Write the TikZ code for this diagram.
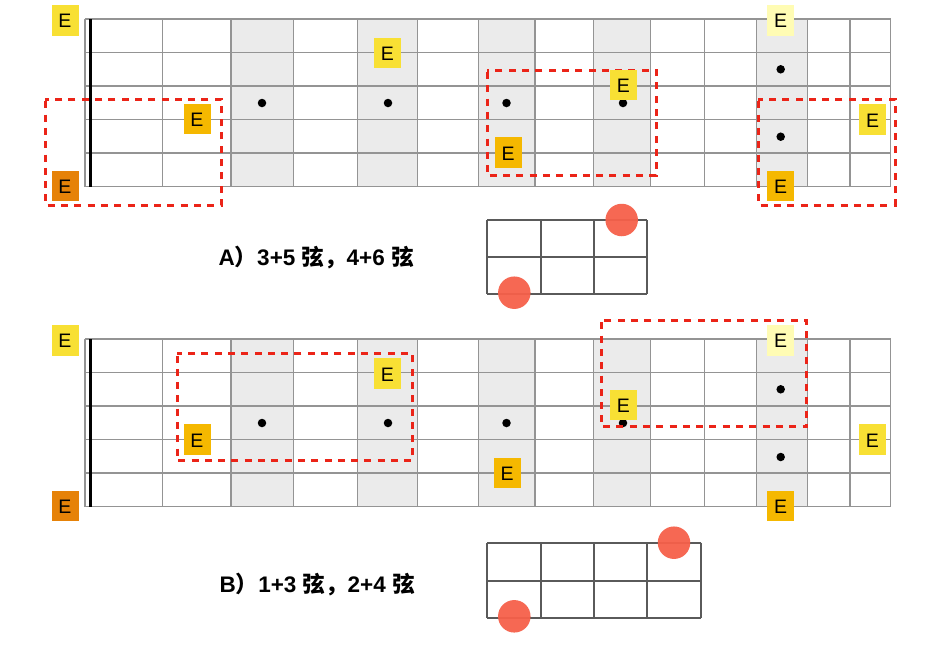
\documentclass[tikz,border=0pt]{standalone}
\usepackage{fontspec}
\setmainfont{Liberation Sans}
\newfontfamily\cjk{Noto Sans CJK SC}
\definecolor{fretshade}{RGB}{235,235,235}
\definecolor{fretgray}{RGB}{148,148,148}
\definecolor{eyel}{RGB}{248,224,52}
\definecolor{eorange}{RGB}{230,130,8}
\definecolor{eamber}{RGB}{245,184,0}
\definecolor{elight}{RGB}{255,252,180}
\definecolor{boxred}{RGB}{235,36,24}
\definecolor{dotred}{RGB}{246,96,74}
\definecolor{griddark}{RGB}{90,90,90}
\begin{document}
\begin{tikzpicture}[x=1pt,y=-1pt,
  fretline/.style={draw=fretgray, line width=1.3pt},
  nutline/.style={draw=black, line width=3pt},
  inlay/.style={circle, fill=black, inner sep=0pt, minimum size=8.5pt},
  enote/.style={rectangle, inner sep=0pt, minimum width=27pt, minimum height=30.5pt,
    text height=15pt, text depth=0pt, font=\fontsize{19.5}{20}\selectfont},
  dashbox/.style={draw=boxred, line width=3pt, dash pattern=on 7pt off 6.3pt, dash phase=-2pt},
  smallgrid/.style={draw=griddark, line width=2pt},
  fingerdot/.style={circle, fill=dotred, fill opacity=0.95, inner sep=0pt, minimum size=32.5pt},
  caption/.style={anchor=base west, inner sep=0pt, font=\fontsize{22.5}{26}\selectfont\bfseries}]
\useasboundingbox (0,0) rectangle (930,646);
\fill[white] (0,0) rectangle (930,646);

% fretboards
\foreach \o in {0,320} {
  \foreach \a/\b in {231/293.3, 357.7/417.7, 478.3/535, 593.3/650.3, 756.7/807.3}
    \fill[fretshade] (\a,19+\o) rectangle (\b,186.5+\o);
  \foreach \i in {0,...,5}
    \draw[fretline] (85,19+33.5*\i+\o) -- (890.7,19+33.5*\i+\o);
  \foreach \x in {85,162.7,231,293.3,357.7,417.7,478.3,535,593.3,650.3,704.3,756.7,807.3,850,890.7}
    \draw[fretline] (\x,19+\o) -- (\x,186.5+\o);
  \draw[nutline] (90.7,19+\o) -- (90.7,186.5+\o);
}

% inlay dots
\node[inlay] (da3) at (262,103) {};
\node[inlay] (da5) at (388,103) {};
\node[inlay] (da7) at (506.5,103) {};
\node[inlay] (da9) at (623,103) {};
\node[inlay] (da12a) at (780.7,69.3) {};
\node[inlay] (da12b) at (780.7,136.7) {};
\node[inlay] (db3) at (262,423) {};
\node[inlay] (db5) at (388,423) {};
\node[inlay] (db7) at (506.5,423) {};
\node[inlay] (db9) at (623,423) {};
\node[inlay] (db12a) at (780.7,389.3) {};
\node[inlay] (db12b) at (780.7,457) {};

% red dashed boxes (A)
\draw[dashbox] (45,99.3) rectangle (221.5,205);
\draw[dashbox] (487,70) rectangle (656,175.7);
\draw[dashbox] (758,99.3) rectangle (895,205);
% red dashed boxes (B)
\draw[dashbox] (177,353.5) rectangle (412.3,460.7);
\draw[dashbox] (601,320.3) rectangle (806.7,426.7);

% E notes (A)
\node[enote, fill=eyel] (ea1) at (65,20.3) {E};
\node[enote, fill=eorange] (ea2) at (65,186) {E};
\node[enote, fill=eamber] (ea3) at (197,119) {E};
\node[enote, fill=eyel] (ea4) at (387.5,53) {E};
\node[enote, fill=eamber] (ea5) at (508,152.7) {E};
\node[enote, fill=eyel] (ea6) at (623.3,85) {E};
\node[enote, fill=elight] (ea7) at (780.7,20.3) {E};
\node[enote, fill=eyel] (ea8) at (872.5,119.7) {E};
\node[enote, fill=eamber] (ea9) at (780.7,186) {E};
% E notes (B)
\node[enote, fill=eyel] (eb1) at (65,340.3) {E};
\node[enote, fill=eorange] (eb2) at (65,506) {E};
\node[enote, fill=eamber] (eb3) at (197,439.7) {E};
\node[enote, fill=eyel] (eb4) at (387.3,373.7) {E};
\node[enote, fill=eamber] (eb5) at (507,473) {E};
\node[enote, fill=eyel] (eb6) at (623.3,405) {E};
\node[enote, fill=elight] (eb7) at (780.7,340.3) {E};
\node[enote, fill=eyel] (eb8) at (872.3,439.7) {E};
\node[enote, fill=eamber] (eb9) at (780.7,506) {E};

% captions
\node[caption] (capA) at (218.3,265.7) {A{\cjk\bfseries ）}3+5 {\cjk\bfseries 弦，}4+6 {\cjk\bfseries 弦}};
\node[caption] (capB) at (219.3,592) {B{\cjk\bfseries ）}1+3 {\cjk\bfseries 弦，}2+4 {\cjk\bfseries 弦}};

% small grid A
\foreach \x in {487.3,540.7,594,646.7} \draw[smallgrid] (\x,220) -- (\x,294.3);
\foreach \y in {220,256.7,294.3} \draw[smallgrid] (487.3,\y) -- (646.7,\y);
\node[fingerdot] (fa1) at (621.7,220) {};
\node[fingerdot] (fa2) at (514.3,292.7) {};

% small grid B
\foreach \x in {487.3,540.7,594,647.3,700.7} \draw[smallgrid] (\x,542.7) -- (\x,618.3);
\foreach \y in {542.7,581,618.3} \draw[smallgrid] (487.3,\y) -- (700.7,\y);
\node[fingerdot] (fb1) at (674,542.7) {};
\node[fingerdot] (fb2) at (514.3,616.3) {};
\end{tikzpicture}
\end{document}
